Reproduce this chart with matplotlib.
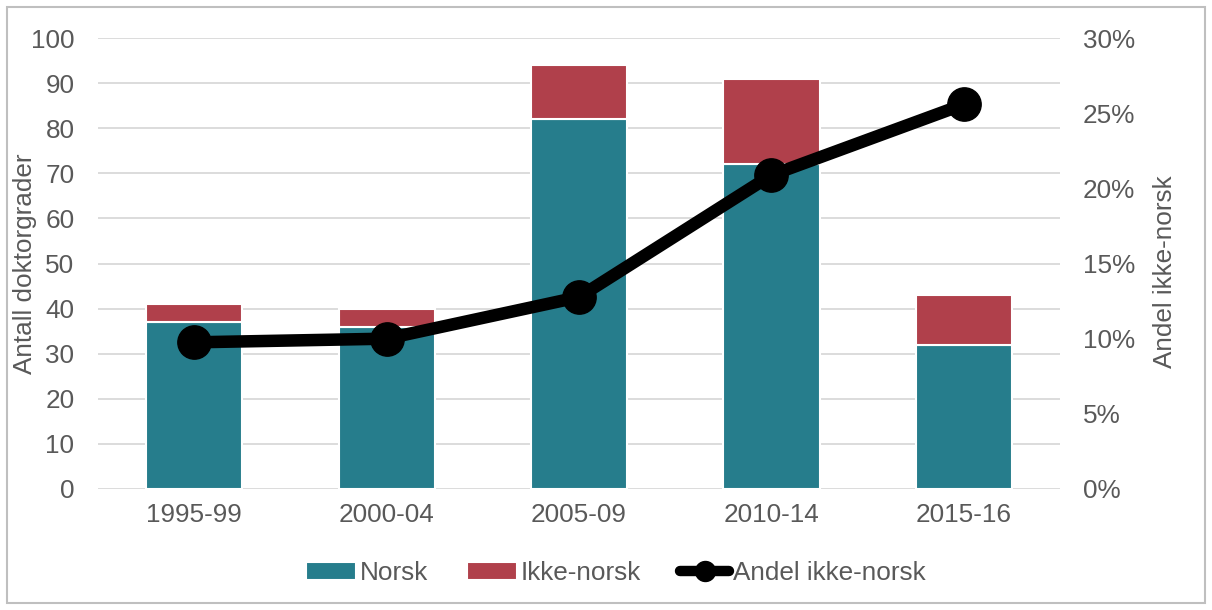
import matplotlib
matplotlib.use("Agg")
import matplotlib.pyplot as plt
from matplotlib.patches import Rectangle
from matplotlib.ticker import FuncFormatter

plt.rcParams['font.family'] = ['Liberation Sans', 'DejaVu Sans']

categories = ["1995-99", "2000-04", "2005-09", "2010-14", "2015-16"]
norsk = [37, 36, 82, 72, 32]
ikke_norsk = [4, 4, 12, 19, 11]
andel = [n2 / (n1 + n2) for n1, n2 in zip(norsk, ikke_norsk)]

teal = "#267D8C"
red = "#B0404B"
txt = "#595959"
grid = "#D9D9D9"
fs = 18.8

fig = plt.figure(figsize=(12.12, 6.10), dpi=100)
ax = fig.add_axes([98/1212, 1-489/610, (1060-98)/1212, (489-38)/610])
x = list(range(len(categories)))
b1 = ax.bar(x, norsk, width=0.5, color=teal, edgecolor="white", linewidth=1.5, label="Norsk", zorder=2)
b2 = ax.bar(x, ikke_norsk, bottom=norsk, width=0.5, color=red, edgecolor="white", linewidth=1.5, label="Ikke-norsk", zorder=2)
ax.set_xlim(-0.5, 4.5)
ax.set_ylim(0, 100)
ax.set_yticks(range(0, 101, 10))
ax.grid(axis='y', color=grid, linewidth=1.3, zorder=0)
ax.set_axisbelow(True)
for s in ax.spines.values():
    s.set_visible(False)
ax.tick_params(axis='both', length=0, labelsize=fs, colors=txt, pad=10)
ax.tick_params(axis='y', pad=17)
ax.set_xticks(x)
ax.set_xticklabels(categories)
ax.set_ylabel("Antall doktorgrader", fontsize=fs, color=txt)
ax.yaxis.set_label_coords((37-98)/962, 0.5)

ax2 = ax.twinx()
ln, = ax2.plot(x, andel, color="black", linewidth=9, marker="o", markersize=24,
               solid_capstyle="round", label="Andel ikke-norsk", zorder=3)
ax2.set_ylim(0, 0.30)
ax2.set_yticks([0, 0.05, 0.10, 0.15, 0.20, 0.25, 0.30])
ax2.yaxis.set_major_formatter(FuncFormatter(lambda v, p: f"{v*100:.0f}%"))
for s in ax2.spines.values():
    s.set_visible(False)
ax2.tick_params(axis='y', length=0, labelsize=fs, colors=txt, pad=16.5)
ax2.set_ylabel("Andel ikke-norsk", fontsize=fs, color=txt)
ax2.yaxis.set_label_coords((1153-98)/962, 0.482)

leg = fig.legend(handles=[b1, b2, ln], labels=["Norsk", "Ikke-norsk", "Andel ikke-norsk"],
                 loc="center", bbox_to_anchor=(616/1212, 1-573/610), ncol=3, frameon=False,
                 fontsize=fs, labelcolor=txt, handlelength=1.9, handletextpad=0.15,
                 columnspacing=1.5, markerscale=0.6)
for h in leg.legend_handles[2:]:
    h.set_linewidth(7.5)

fig.add_artist(Rectangle((7/1212, 7/610), (1205-7)/1212, (603-7)/610, transform=fig.transFigure,
                         fill=False, edgecolor="#BFBFBF", linewidth=1.5))

fig.savefig("out.png", dpi=100)
